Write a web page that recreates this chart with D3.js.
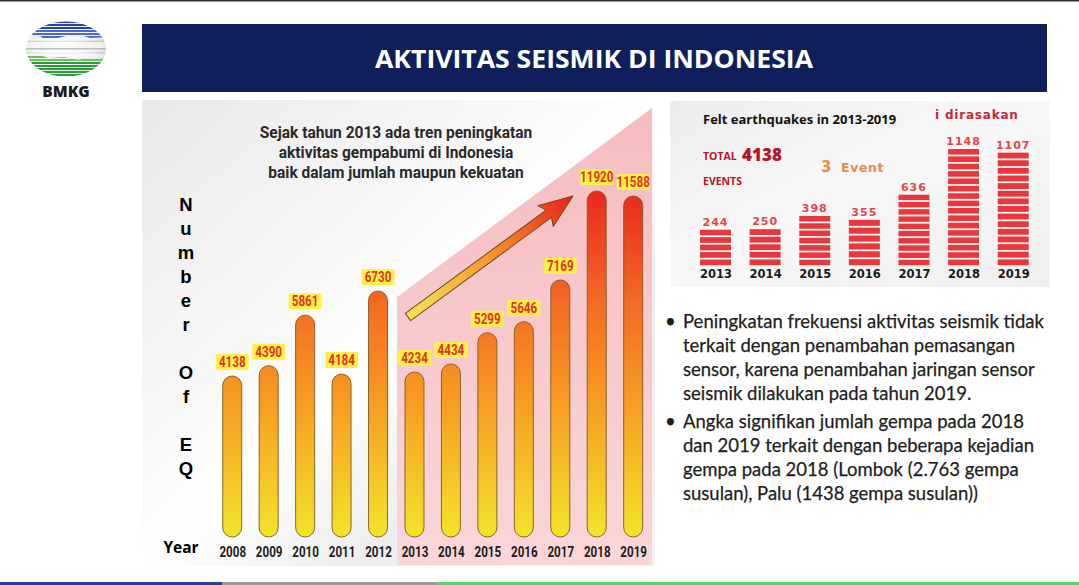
<!DOCTYPE html>
<html><head><meta charset="utf-8">
<script src="https://cdn.jsdelivr.net/npm/d3@7/dist/d3.min.js"></script>
<style>
html,body{margin:0;padding:0;background:#fff;}
svg{display:block;}
</style></head>
<body>
<svg id="c" width="1079" height="585"></svg>
<script>
// ---------- DATA ----------
const years = ["2008","2009","2010","2011","2012","2013","2014","2015","2016","2017","2018","2019"];
const quakeCounts = [4138,4390,5861,4184,6730,4234,4434,5299,5646,7169,11920,11588];
const feltYears = ["2013","2014","2015","2016","2017","2018","2019"];
const feltCounts = [244,250,398,355,636,1148,1107];
const yAxisLetters = ["N","u","m","b","e","r","","O","f","","E","Q"];
const noteLines = ["Sejak tahun 2013 ada tren peningkatan","aktivitas gempabumi di Indonesia","baik dalam jumlah maupun kekuatan"];
const bullet1 = ["Peningkatan frekuensi aktivitas seismik tidak","terkait dengan penambahan pemasangan","sensor, karena penambahan jaringan sensor","seismik dilakukan pada tahun 2019."];
const bullet2 = ["Angka signifikan jumlah gempa pada 2018","dan 2019 terkait dengan beberapa kejadian","gempa pada 2018 (Lombok (2.763 gempa","susulan), Palu (1438 gempa susulan))"];
const titleText = "AKTIVITAS SEISMIK DI INDONESIA";

const svg = d3.select("#c");
const defs = svg.append("defs");
const COND = "Roboto,'Liberation Sans',sans-serif";

// ---------- gradients ----------
const gBar = defs.append("linearGradient").attr("id","gBar").attr("gradientUnits","userSpaceOnUse")
  .attr("x1",0).attr("y1",185).attr("x2",0).attr("y2",540);
gBar.append("stop").attr("offset",0).attr("stop-color","#e8251f");
gBar.append("stop").attr("offset",0.33).attr("stop-color","#f36a24");
gBar.append("stop").attr("offset",0.6).attr("stop-color","#f79a22");
gBar.append("stop").attr("offset",1).attr("stop-color","#f3e52a");

const gPink = defs.append("linearGradient").attr("id","gPink").attr("x1",0).attr("y1",0).attr("x2",0).attr("y2",1);
gPink.append("stop").attr("offset",0).attr("stop-color","#f5bcc1");
gPink.append("stop").attr("offset",1).attr("stop-color","#f9d6d8");

const gPanel = defs.append("linearGradient").attr("id","gPanel").attr("x1",0).attr("y1",0).attr("x2",1).attr("y2",1);
gPanel.append("stop").attr("offset",0).attr("stop-color","#e9e9e9");
gPanel.append("stop").attr("offset",0.35).attr("stop-color","#f7f7f7");
gPanel.append("stop").attr("offset",0.5).attr("stop-color","#ffffff");
gPanel.append("stop").attr("offset",0.7).attr("stop-color","#eeeeee");
gPanel.append("stop").attr("offset",1).attr("stop-color","#f3f3f3");

const gArrow = defs.append("linearGradient").attr("id","gArrow").attr("x1",0).attr("y1",0).attr("x2",1).attr("y2",0);
gArrow.append("stop").attr("offset",0).attr("stop-color","#f5e35a");
gArrow.append("stop").attr("offset",0.5).attr("stop-color","#f7962a");
gArrow.append("stop").attr("offset",1).attr("stop-color","#e8201c");

// ---------- top line ----------
svg.append("rect").attr("x",0).attr("y",0).attr("width",1079).attr("height",1.5).attr("fill","#333");

// ---------- logo ----------
const logo = svg.append("g");
defs.append("clipPath").attr("id","logoClip").append("ellipse").attr("cx",66).attr("cy",49).attr("rx",40).attr("ry",27.5);
const gLogo = defs.append("radialGradient").attr("id","gLogo").attr("cx",0.45).attr("cy",0.45).attr("r",0.6);
gLogo.append("stop").attr("offset",0).attr("stop-color","#ffffff");
gLogo.append("stop").attr("offset",0.7).attr("stop-color","#f0f0f0");
gLogo.append("stop").attr("offset",1).attr("stop-color","#c8c8c8");
const lc = logo.append("g").attr("clip-path","url(#logoClip)");
lc.append("rect").attr("x",20).attr("y",18).attr("width",92).attr("height",62).attr("fill","url(#gLogo)");
d3.range(6).forEach(i=>{
  lc.append("rect").attr("x",20).attr("y",21+i*3).attr("width",92).attr("height",2)
    .attr("fill", i<3 ? "#2a3fa8" : "#4a6ad0");
});
lc.append("path").attr("d","M20,36 L40,36 L44,39 L58,38 L70,35 L84,36 L90,38 L112,37 L112,42 L20,42 Z").attr("fill","url(#gLogo)");
lc.append("rect").attr("x",20).attr("y",48.5).attr("width",92).attr("height",0.8).attr("fill","#888");
d3.range(7).forEach(i=>{
  lc.append("rect").attr("x",20).attr("y",56+i*3).attr("width",92).attr("height",2)
    .attr("fill", i<2 ? "#6cbf5a" : "#2e9a3a");
});
lc.append("path").attr("d","M20,55 L40,55 L48,58 L64,57 L78,60 L88,58 L112,58 L112,52 L20,52 Z").attr("fill","url(#gLogo)");
logo.append("text").attr("x",66).attr("y",97).attr("text-anchor","middle")
  .attr("font-family","'Open Sans',sans-serif").attr("font-weight",800).attr("font-size",15.5).attr("fill","#1a1a1a").text("BMKG");

// ---------- title banner ----------
svg.append("rect").attr("x",142).attr("y",24).attr("width",905).attr("height",68).attr("fill","#0e1f5b");
svg.append("text").attr("x",594).attr("y",68).attr("text-anchor","middle")
  .attr("font-family","'Open Sans',sans-serif").attr("font-weight",700).attr("font-size",25).attr("fill","#fff")
  .attr("textLength",438).attr("lengthAdjust","spacingAndGlyphs").text(titleText);

// ---------- left panel ----------
svg.append("rect").attr("x",142).attr("y",100).attr("width",513).attr("height",466).attr("fill","url(#gPanel)");
svg.append("path").attr("d","M397,297 L652,108 L652,565 L397,565 Z").attr("fill","url(#gPink)");

// annotation text
const note = svg.append("g");
noteLines.forEach((t,i)=>{
  note.append("g").attr("transform",`translate(396,${138+i*20}) scale(0.97,1)`)
    .append("text").attr("text-anchor","middle")
    .attr("font-family",COND).attr("font-weight",700).attr("font-size",16).attr("fill","#2a2a2a").text(t);
});

// scales
const x = d3.scalePoint().domain(years).range([214,651.4]).padding(0.5);
const y = d3.scaleLog().domain([4138,11920]).range([376,191]);
const baseY = 537, barW = 19;

// bars
svg.append("g").selectAll("rect").data(years).join("rect")
  .attr("x",d=>x(d)-barW/2).attr("width",barW)
  .attr("y",(d,i)=>y(quakeCounts[i])).attr("height",(d,i)=>baseY-y(quakeCounts[i]))
  .attr("rx",barW/2).attr("ry",barW/2)
  .attr("fill","url(#gBar)").attr("stroke","#7d5a1e").attr("stroke-width",0.9);

// value labels
const lab = svg.append("g").selectAll("g").data(years).join("g")
  .attr("transform",(d,i)=>`translate(${x(d)},${y(quakeCounts[i])-14})`);
lab.append("rect").attr("x",-16.5).attr("y",-8).attr("width",33).attr("height",16).attr("rx",2).attr("fill","#fff04a");
lab.append("text").attr("text-anchor","middle").attr("y",5).attr("transform","scale(0.8,1)")
  .attr("font-family",COND).attr("font-weight",700).attr("font-size",14.5).attr("fill","#e5321f")
  .text((d,i)=>quakeCounts[i]);

// x axis labels
const xAxis = d3.axisBottom(x).tickSize(0).tickPadding(0);
const xg = svg.append("g").attr("transform","translate(0,557)").call(xAxis);
xg.select(".domain").remove();
xg.selectAll("text").attr("font-family",COND).attr("font-weight",700).attr("font-size",14.5).attr("fill","#1c1c1c")
  .attr("dy",0).attr("y",0).attr("transform","scale(0.8,1)");

svg.append("text").attr("x",181).attr("y",553).attr("text-anchor","middle")
  .attr("font-family","'Open Sans',sans-serif").attr("font-weight",700).attr("font-size",15.5).attr("fill","#000").text("Year");

// y axis title letters
svg.append("g").selectAll("text").data(yAxisLetters).join("text")
  .attr("x",186).attr("y",(d,i)=>211+i*24).attr("text-anchor","middle")
  .attr("font-family","'Liberation Sans',Arial,sans-serif").attr("font-weight",700).attr("font-size",18.5).attr("fill","#000")
  .text(d=>d);

// arrow
const tail=[408,317], tip=[573,196];
const L=Math.hypot(tip[0]-tail[0],tip[1]-tail[1]);
const ang=Math.atan2(tip[1]-tail[1],tip[0]-tail[0])*180/Math.PI;
svg.append("path").attr("transform",`translate(${tail[0]},${tail[1]}) rotate(${ang})`)
  .attr("d",`M0,-4.5 L${L-30},-4.5 L${L-34},-13 L${L},0 L${L-34},13 L${L-30},4.5 L0,4.5 Z`)
  .attr("fill","url(#gArrow)").attr("stroke","#6b4a22").attr("stroke-width",1).attr("stroke-linejoin","round");

// ---------- right felt panel ----------
const gPanel2 = defs.append("linearGradient").attr("id","gPanel2").attr("x1",0).attr("y1",0).attr("x2",1).attr("y2",1);
gPanel2.append("stop").attr("offset",0).attr("stop-color","#ececec");
gPanel2.append("stop").attr("offset",0.45).attr("stop-color","#f8f8f8");
gPanel2.append("stop").attr("offset",1).attr("stop-color","#efefef");
svg.append("rect").attr("x",670).attr("y",101).attr("width",380).attr("height",186).attr("fill","url(#gPanel2)");

svg.append("text").attr("x",703).attr("y",124).attr("font-family","'Open Sans',sans-serif").attr("font-weight",700)
  .attr("font-size",13).attr("fill","#111").text("Felt earthquakes in 2013-2019");
svg.append("text").attr("x",935).attr("y",119).attr("font-family","'DejaVu Sans',sans-serif").attr("font-weight",700)
  .attr("font-size",12).attr("letter-spacing",0.8).attr("fill","#c2283a").text("i dirasakan");
svg.append("text").attr("x",703).attr("y",160).attr("font-family","'Open Sans',sans-serif").attr("font-weight",700)
  .attr("font-size",10.5).attr("fill","#b5152c").text("TOTAL");
svg.append("text").attr("x",742).attr("y",161).attr("font-family","'Open Sans',sans-serif").attr("font-weight",800)
  .attr("font-size",17).attr("fill","#b5152c").text("4138");
svg.append("text").attr("x",703).attr("y",185).attr("font-family","'Open Sans',sans-serif").attr("font-weight",700)
  .attr("font-size",10.5).attr("fill","#b5152c").text("EVENTS");
svg.append("text").attr("x",821).attr("y",172).attr("font-family","'DejaVu Sans',sans-serif").attr("font-weight",700)
  .attr("font-size",15).attr("fill","#ea8a4a").text("3");
svg.append("text").attr("x",841).attr("y",172).attr("font-family","'DejaVu Sans',sans-serif").attr("font-weight",700)
  .attr("font-size",12.5).attr("letter-spacing",0.6).attr("fill","#ea8a4a").text("Event");

const fx = d3.scalePoint().domain(feltYears).range([690.7,1038]).padding(0.5);
const fy = d3.scaleLinear().domain([0,1148]).range([251.5,149]);
const fBase = 267, fW = 31, pitch = 7.6, gap = 1.8;
const fb = svg.append("g").selectAll("g").data(feltYears).join("g");
fb.each(function(d,i){
  const top = fy(feltCounts[i]); const h = fBase - top;
  const n = Math.max(1, Math.round(h/pitch)); const seg = h/n;
  d3.select(this).selectAll("rect").data(d3.range(n)).join("rect")
    .attr("x",fx(d)-fW/2).attr("width",fW)
    .attr("y",k=>top+k*seg).attr("height",seg-gap).attr("fill","#e8383d");
});
svg.append("g").selectAll("text").data(feltYears).join("text")
  .attr("x",d=>fx(d)).attr("y",(d,i)=>fy(feltCounts[i])-4).attr("text-anchor","middle")
  .attr("font-family","'DejaVu Sans',sans-serif").attr("font-weight",700).attr("font-size",11).attr("letter-spacing",1)
  .attr("fill","#e0474c").text((d,i)=>feltCounts[i]);
const fxAxis = d3.axisBottom(fx).tickSize(0).tickPadding(0);
const fxg = svg.append("g").attr("transform","translate(0,270)").call(fxAxis);
fxg.select(".domain").remove();
fxg.selectAll("text").attr("font-family","'DejaVu Sans',sans-serif").attr("font-weight",700).attr("font-size",11.5)
  .attr("fill","#1a1a1a").attr("dy","0.7em");

// ---------- bullet text ----------
const bt = svg.append("g").attr("font-family","Lato,'Open Sans',sans-serif").attr("font-size",18.5).attr("fill","#1e1e1e")
  .attr("stroke","#1e1e1e").attr("stroke-width",0.25);
function para(lines, y0){
  bt.append("text").attr("x",665).attr("y",y0).text("•");
  lines.forEach((t,i)=> bt.append("text").attr("x",683).attr("y",y0+i*24).text(t));
}
para(bullet1,328);
para(bullet2,428);

// ---------- bottom strip ----------
svg.append("rect").attr("x",0).attr("y",582).attr("width",222).attr("height",3).attr("fill","#2a3aa8");
svg.append("rect").attr("x",222).attr("y",582).attr("width",215).attr("height",3).attr("fill","#9a9a9a");
svg.append("rect").attr("x",437).attr("y",582).attr("width",642).attr("height",3).attr("fill","#4fd86a");
</script>
</body></html>
